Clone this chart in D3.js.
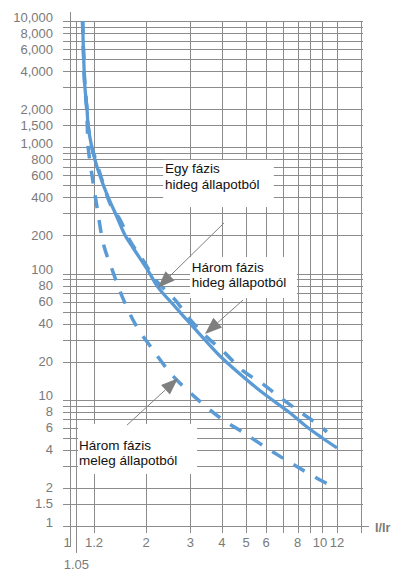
<!DOCTYPE html>
<html><head><meta charset="utf-8">
<script src="https://cdn.jsdelivr.net/npm/d3@7"></script>
<style>body{margin:0;background:#fff}svg{display:block}</style>
</head><body><svg id="c" width="394" height="571"></svg>
<script>
// ---- data ----
const xGridValues = [1, 1.05, 1.2, 2, 3, 4, 5, 6, 7, 8, 9, 10, 12, 16];
const xTickValues = [1, 1.2, 2, 3, 4, 5, 6, 8, 10, 12];
const xTickLabels = ["1", "1.2", "2", "3", "4", "5", "6", "8", "10", "12"];
const yGridValues = [1,1.5,2,3,4,5,6,7,8,9,10,20,30,40,50,60,70,80,90,100,200,300,400,500,600,700,800,900,1000,1500,2000,3000,4000,5000,6000,7000,8000,9000,10000];
const yTickValues = [1,1.5,2,4,6,8,10,20,40,60,80,100,200,400,600,800,1000,1500,2000,4000,6000,8000,10000];

// solid curve
const solidX = [1.10,1.11,1.12,1.138,1.147,1.18,1.21,1.27,1.38,1.48,1.63,1.76,2.04,2.23,2.6,3.0,3.5,4.0,4.94,5.83,7.47,8.72,10,12];
const solidT = [10000,5000,3000,2000,1500,1000,800,600,400,300,200,160,105,78,55,40,28.5,21.5,14.8,11.3,7.85,6.08,5.0,4.15];
// upper dashed curve
const dashAX = [1.10,1.11,1.12,1.138,1.147,1.18,1.22,1.28,1.42,1.545,1.72,1.94,2.18,2.61,2.96,3.49,4.11,4.86,5.83,6.96,8.34,10,10.6];
const dashAT = [10000,5000,3000,2000,1500,1000,800,600,343,270,178,128,89.6,61.7,44.4,31.4,23.5,16.9,13.3,10.1,7.8,6.03,5.55];
// lower dashed curve (meleg)
const dashBX = [1.10,1.11,1.12,1.135,1.14,1.148,1.188,1.242,1.32,1.44,1.586,1.81,2.09,2.54,3.13,3.9,4.9,6.2,7.85,10,10.75];
const dashBT = [10000,5000,3000,2000,1500,1000,552,318,168,105,65,39,26.2,15.7,10.5,7.3,5.45,4.0,3.0,2.27,2.15];

// annotations (data coordinates)
const annLines = [["Egy fázis","hideg állapotból"],["Három fázis","hideg állapotból"],["Három fázis","meleg állapotból"]];
const annText = [[2.38,625],[3.04,103],[1.071,4.0]];
const annBox = [[2.34,794,6.44,336],[2.99,135,7.95,64],[1.063,6.43,3.19,2.58]];
const annFrom = [[4.08,251],[4.86,61.7],[1.66,6.3]];
const annTo = [[2.23,77],[3.43,33.2],[2.68,14.8]];

// ---- scales ----
const svg = d3.select("#c");
const x = d3.scaleLog().domain([1, 1.2, 2, 10, 12]).range([70, 94, 146, 322, 337]);
const y = d3.scaleLog().domain([1, 10000]).range([526, 21]);
const gridCol = "#8c8c8c", labCol = "#7a7a7a", blue = "#5b9bd5";
const xMaxGrid = 16;

// grid
const g = svg.append("g").attr("shape-rendering","crispEdges");
g.selectAll("line.h").data(yGridValues).join("line")
  .attr("x1", 63).attr("x2", x(xMaxGrid) + 2)
  .attr("y1", d => Math.round(y(d)) + 0.5).attr("y2", d => Math.round(y(d)) + 0.5)
  .attr("stroke", gridCol).attr("stroke-width", 1);
g.selectAll("line.v").data(xGridValues).join("line")
  .attr("x1", d => Math.round(x(d)) + 0.5).attr("x2", d => Math.round(x(d)) + 0.5)
  .attr("y1", d => d === 1 ? y(10000) - 9 : y(10000))
  .attr("y2", d => d === 1 ? y(1) + 21 : (d === 1.05 ? y(1) + 27 : y(1) + 7))
  .attr("stroke", gridCol).attr("stroke-width", 1);
// x axis extension
g.append("line").attr("x1", 63).attr("x2", x(xMaxGrid) + 8)
  .attr("y1", Math.round(y(1)) + 0.5).attr("y2", Math.round(y(1)) + 0.5)
  .attr("stroke", gridCol);

// y labels
const fmt = d3.format(",");
svg.selectAll("text.yl").data(yTickValues).join("text")
  .attr("x", 53).attr("y", d => y(d) + 4.5 - (Number.isInteger(Math.log10(d)) ? 4 : 0))
  .attr("text-anchor", "end").attr("font-family", "Liberation Sans, Arial, sans-serif")
  .attr("font-size", 13).attr("fill", labCol).text(d => fmt(d));

// x labels
svg.selectAll("text.xl").data(xTickValues).join("text")
  .attr("x", (d, i) => x(d) - (d === 1 ? 3 : 0) - (d === 10 ? 2 : 0))
  .attr("y", 547).attr("text-anchor", "middle")
  .attr("font-family", "Liberation Sans, Arial, sans-serif")
  .attr("font-size", 13).attr("fill", labCol).text((d, i) => xTickLabels[i]);
svg.append("text").attr("x", x(1.05)).attr("y", 569).attr("text-anchor", "middle")
  .attr("font-family", "Liberation Sans, Arial, sans-serif")
  .attr("font-size", 13).attr("fill", labCol).text("1.05");
svg.append("text").attr("x", 375).attr("y", 532)
  .attr("font-family", "Liberation Sans, Arial, sans-serif").attr("font-weight", "bold")
  .attr("font-size", 12.5).attr("fill", labCol).text("I/Ir");

// annotation boxes
annBox.forEach(b => {
  svg.append("rect").attr("x", x(b[0])).attr("y", y(b[1]))
    .attr("width", x(b[2]) - x(b[0])).attr("height", y(b[3]) - y(b[1]))
    .attr("fill", "#fff");
});

// curves
const line = d3.line().x(d => x(d[0])).y(d => y(d[1])).curve(d3.curveCatmullRom.alpha(0.5));
svg.append("path").datum(solidX.map((v, i) => [v, solidT[i]])).attr("d", line)
  .attr("fill", "none").attr("stroke", blue).attr("stroke-width", 3.3);
svg.append("path").datum(dashAX.map((v, i) => [v, dashAT[i]])).attr("d", line)
  .attr("fill", "none").attr("stroke", blue).attr("stroke-width", 3.5).attr("stroke-dasharray", "13,12");
svg.append("path").datum(dashBX.map((v, i) => [v, dashBT[i]])).attr("d", line)
  .attr("fill", "none").attr("stroke", blue).attr("stroke-width", 3.5).attr("stroke-dasharray", "13,12");

// arrows
const arrCol = "#7f7f7f";
annFrom.forEach((f, i) => {
  const x0 = x(f[0]), y0 = y(f[1]), x1 = x(annTo[i][0]), y1 = y(annTo[i][1]);
  const dx = x1 - x0, dy = y1 - y0, L = Math.hypot(dx, dy), ux = dx / L, uy = dy / L;
  const hl = 17, hw = 6.5;
  const bx = x1 - ux * hl, by = y1 - uy * hl;
  svg.append("line").attr("x1", x0).attr("y1", y0).attr("x2", bx).attr("y2", by)
    .attr("stroke", arrCol).attr("stroke-width", 1);
  svg.append("polygon").attr("points", [[x1, y1], [bx - uy * hw, by + ux * hw], [bx + uy * hw, by - ux * hw]].map(p => p.join(",")).join(" "))
    .attr("fill", arrCol);
});

// annotation texts
annLines.forEach((ls, i) => {
  const t = svg.append("text").attr("font-family", "Liberation Sans, Arial, sans-serif")
    .attr("font-size", 13.5).attr("fill", "#111");
  ls.forEach((s, j) => t.append("tspan").attr("x", x(annText[i][0])).attr("y", y(annText[i][1]) + j * 15.5).text(s));
});
</script></body></html>
